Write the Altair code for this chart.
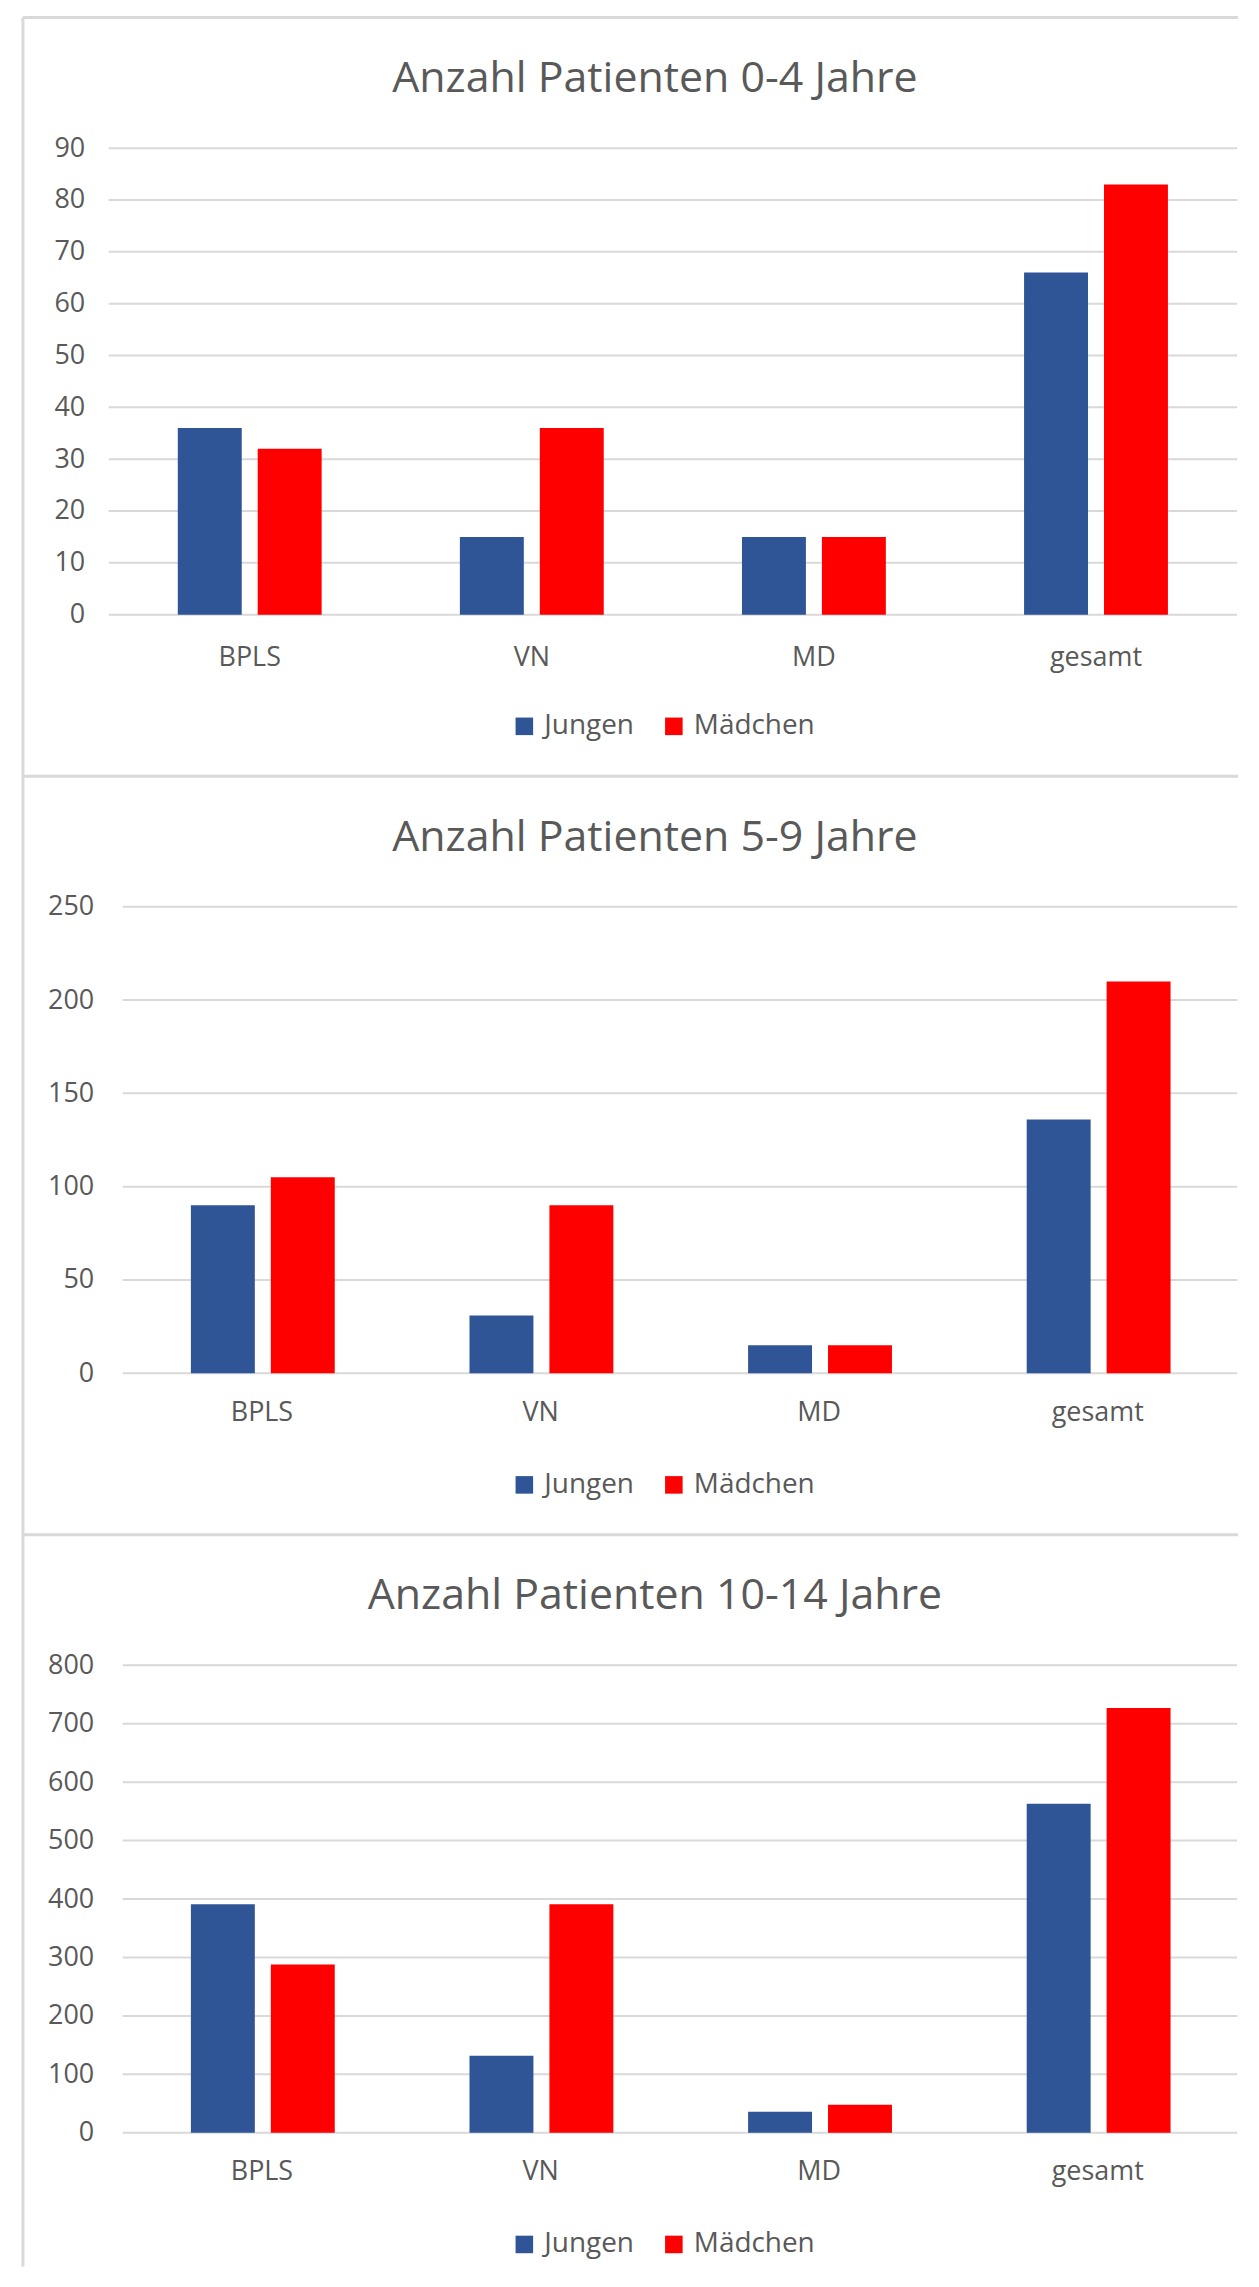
import altair as alt
import pandas as pd

# ---------------- data ----------------
categories = ["BPLS", "VN", "MD", "gesamt"]
series = ["Jungen", "Mädchen"]
series_colors = ["#2F5597", "#FF0000"]

titles = [
    "Anzahl Patienten 0-4 Jahre",
    "Anzahl Patienten 5-9 Jahre",
    "Anzahl Patienten 10-14 Jahre",
]

jungen_0_4 = [36, 15, 15, 66]
maedchen_0_4 = [32, 36, 15, 83]

jungen_5_9 = [90, 31, 15, 136]
maedchen_5_9 = [105, 90, 15, 210]

jungen_10_14 = [391, 132, 36, 563]
maedchen_10_14 = [288, 391, 48, 727]

ticks_0_4 = [0, 10, 20, 30, 40, 50, 60, 70, 80, 90]
ticks_5_9 = [0, 50, 100, 150, 200, 250]
ticks_10_14 = [0, 100, 200, 300, 400, 500, 600, 700, 800]

# ---------------- style ----------------
FONT = "Open Sans"
TEXT = "#595959"
GRID = "#D9D9D9"
BORDER = "#D9D9D9"
W = 1118


def panel(title, jungen, maedchen, ticks, h, x_start=0, y_label_pad=29, x_label_pad=26,
          bottom_ext=162):
    df = pd.DataFrame({
        "Kategorie": categories * 2,
        "Geschlecht": [series[0]] * len(categories) + [series[1]] * len(categories),
        "Anzahl": jungen + maedchen,
    })
    xs = dict(paddingInner=0.49, paddingOuter=0.245)
    if x_start != 0:
        xs["range"] = [x_start, W]
    yscale = alt.Scale(domain=[ticks[0], ticks[-1]], nice=False)
    yaxis = alt.Axis(title=None, values=ticks, grid=False, domain=False, ticks=False,
                     tickSize=0, labelPadding=y_label_pad, labelFontSize=27,
                     labelFont=FONT, labelColor=TEXT)
    bars = alt.Chart(df).mark_bar().encode(
        x=alt.X(
            "Kategorie:N", sort=categories, scale=alt.Scale(**xs),
            axis=alt.Axis(title=None, labelAngle=0, ticks=False, tickSize=0, domain=False,
                          grid=False, labelPadding=x_label_pad, labelFontSize=27,
                          labelFont=FONT, labelColor=TEXT, labelBaseline="top"),
        ),
        xOffset=alt.XOffset("Geschlecht:N", sort=series, scale=alt.Scale(paddingInner=0.2)),
        y=alt.Y("Anzahl:Q", scale=yscale, axis=yaxis),
        color=alt.Color(
            "Geschlecht:N", sort=series,
            scale=alt.Scale(domain=series, range=series_colors),
            legend=alt.Legend(title=None, orient="none", legendX=389, legendY=h + 98,
                              direction="horizontal", symbolType="square", symbolSize=310,
                              symbolStrokeWidth=0, labelFontSize=28, labelFont=FONT,
                              labelColor=TEXT, columnPadding=26, labelOffset=6, padding=0),
        ),
    )
    grid = alt.Chart(pd.DataFrame({"v": ticks})).mark_rule(color=GRID, strokeWidth=2).encode(
        y=alt.Y("v:Q", scale=yscale, axis=yaxis), x=alt.value(x_start), x2=alt.value(W))
    one = pd.DataFrame({"t": [title]})
    top_rule = alt.Chart(one).mark_rule(color=BORDER, strokeWidth=3).encode(
        x=alt.value(-100), x2=alt.value(W + 1), y=alt.value(-131))
    left_rule = alt.Chart(one).mark_rule(color=BORDER, strokeWidth=3).encode(
        x=alt.value(-100), y=alt.value(-131), y2=alt.value(h + bottom_ext))
    title_text = alt.Chart(one).mark_text(
        font=FONT, fontSize=43, color=TEXT, align="center", baseline="alphabetic"
    ).encode(text="t:N", x=alt.value(534), y=alt.value(-56))
    return alt.layer(top_rule, left_rule, grid, bars, title_text).properties(width=W, height=h)


p1 = panel(titles[0], jungen_0_4, maedchen_0_4, ticks_0_4, 468, x_start=-14, y_label_pad=38,
           x_label_pad=30)
p2 = panel(titles[1], jungen_5_9, maedchen_5_9, ticks_5_9, 468)
p3 = panel(titles[2], jungen_10_14, maedchen_10_14, ticks_10_14, 469, bottom_ext=134)

chart = alt.vconcat(p1, p2, p3, spacing=293, bounds="flush").resolve_scale(
    color="independent"
).resolve_legend(color="independent").properties(
    padding={"left": 13, "top": 4, "right": 0, "bottom": 0},
).configure(font=FONT).configure_view(stroke=None)

chart.save("out.html", embed_options={"renderer": "svg", "actions": False})
